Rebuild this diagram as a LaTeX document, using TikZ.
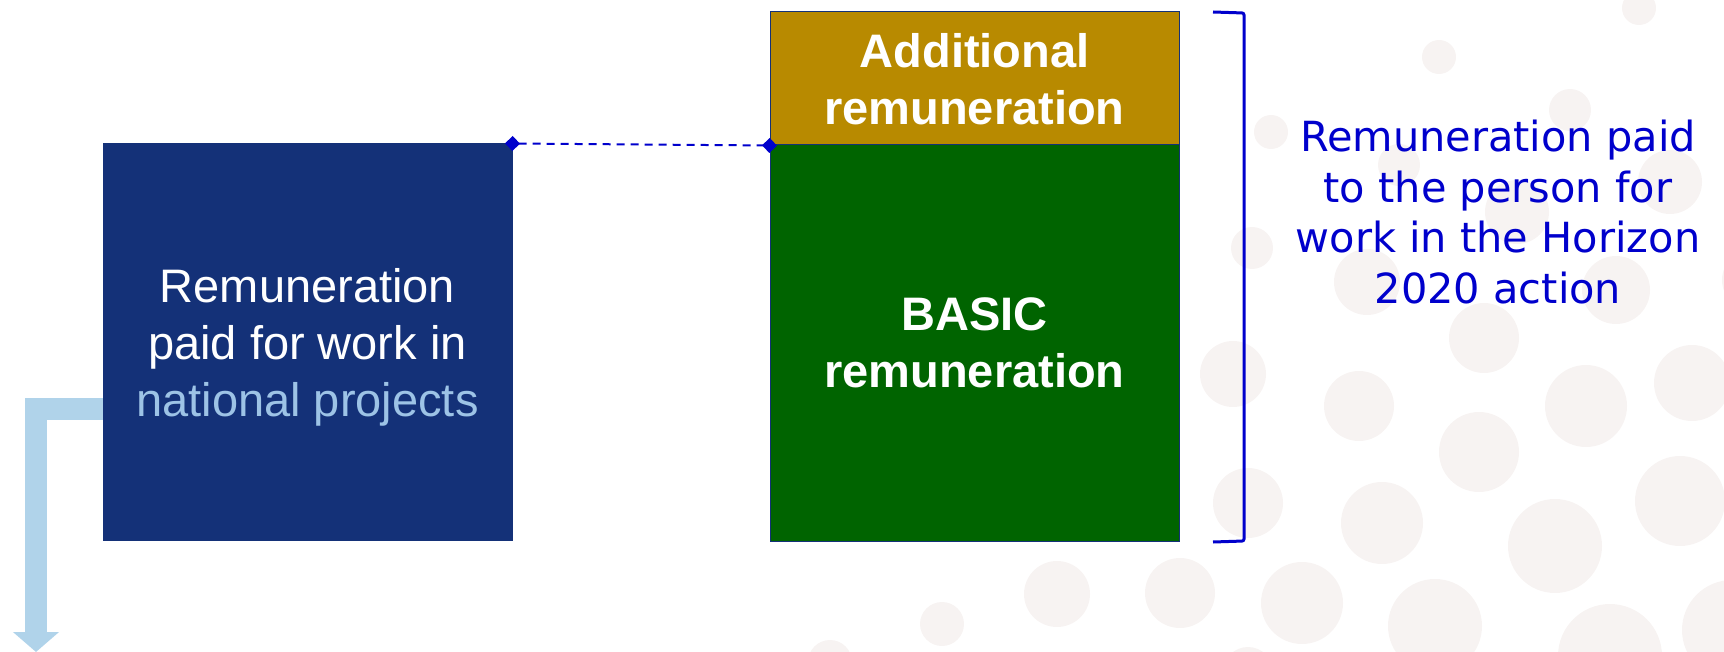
\documentclass[tikz,border=0pt]{standalone}
\usepackage{fontspec}
\setmainfont{Liberation Sans}
\newfontfamily\notefont{DejaVu Sans}
\usetikzlibrary{arrows.meta}
\definecolor{navybox}{RGB}{20,49,120}
\definecolor{goldbox}{RGB}{184,138,0}
\definecolor{greenbox}{RGB}{0,100,0}
\definecolor{paleblue}{RGB}{157,195,230}
\definecolor{feedblue}{RGB}{176,211,234}
\definecolor{noteblue}{RGB}{0,0,204}
\definecolor{dotgrey}{RGB}{247,243,242}
\tikzset{
  box/.style={rectangle, draw=navybox, line width=1pt, text=white, align=center,
    minimum width=409pt, inner sep=0pt, font=\fontsize{47}{57}\selectfont},
  boldbox/.style={box, font=\bfseries\fontsize{47}{57}\selectfont},
  link/.style={draw=noteblue, line width=2pt, dash pattern=on 8pt off 6pt,
    {Diamond[length=15pt,width=15pt]}-{Diamond[length=15pt,width=15pt]},
    shorten <=-7.5pt, shorten >=-7.5pt},
  feed/.style={draw=feedblue, line width=22pt, line join=miter,
    -{Triangle[length=20pt,width=45pt]}},
  brace/.style={draw=noteblue, line width=3pt, rounded corners=2pt},
  note/.style={text=noteblue, align=center,
    font=\notefont\fontsize{41.5}{50.5}\selectfont}
}
\begin{document}
\begin{tikzpicture}[x=1pt,y=-1pt]
  \useasboundingbox (0,0) rectangle (1724,652);
  \clip (0,0) rectangle (1724,652);
  % background dots
  \foreach \cx/\cy/\r in {1639/8/17, 1439/57/17, 1570/110/21, 1271/132/17,
      1399/165/21, 1670/182/32, 1517/212/32, 1252/248/21, 1367/282/33,
      1616/290/34, 1752/280/30, 1484/338/35, 1233/374/33, 1359/406/35,
      1692/383/38, 1586/406/41, 1479/452/40, 1248/503/35, 1382/523/41,
      1680/501/45, 1555/546/47, 1180/593/35, 1302/603/41, 1435/626/47,
      1610/656/52, 1732/630/50, 1248/672/25, 1057/594/33, 942/624/22,
      830/662/22}
    \fill[dotgrey] (\cx,\cy) circle (\r pt);

  \node[box, fill=navybox, minimum height=396pt, text depth=-4pt] (nat) at (307.5,342)
    {Remuneration\\paid for work in\\\textcolor{paleblue}{national projects}};
  \node[boldbox, fill=goldbox, minimum height=133pt, text depth=-6pt] (add) at (974.5,78.5)
    {Additional\\remuneration};
  \node[boldbox, fill=greenbox, minimum height=396pt, text depth=-14pt] (basic) at (974.5,343)
    {BASIC\\remuneration};
  \node[note] (note) at (1498,212)
    {Remuneration paid\\to the person for\\work in the Horizon\\2020 action};

  \coordinate (down) at (36,652);
  \draw[feed] ([yshift=-67pt]nat.west) -| (down);
  \draw[link] (nat.north east) -- (add.south west);
  \draw[brace] (1213,12) -- (1244,13) -- (1244,541) -- (1213,542);
\end{tikzpicture}
\end{document}
